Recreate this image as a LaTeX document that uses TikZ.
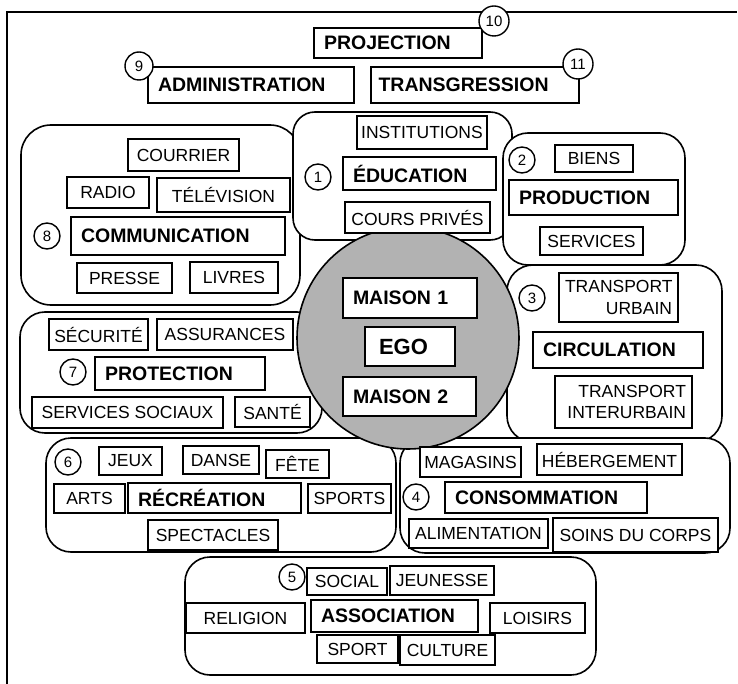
\documentclass[tikz,border=0pt]{standalone}
\usepackage{fontspec}
\setmainfont{Liberation Sans}

\begin{document}
\begin{tikzpicture}[x=1pt, y=-1pt,
  region/.style={draw=black, line width=1.6pt, fill=white, rounded corners=#1},
  region/.default=25pt,
  lbl/.style={rectangle, draw=black, line width=1.4pt, fill=white, inner sep=0pt,
              font=\fontsize{17.5}{21}\selectfont},
  head/.style={lbl, line width=1.6pt, inner xsep=10pt, align=left,
               font=\fontsize{19.5}{22}\selectfont\bfseries},
  twoline/.style={lbl, inner xsep=6pt, align=right,
                  font=\fontsize{17.5}{21.5}\selectfont},
  num/.style={circle, draw=black, line width=1.4pt, fill=white, inner sep=0pt,
              minimum size=26pt, font=\fontsize{15}{15}\selectfont},
  ego/.style={circle, draw=black, line width=1.6pt, fill=black!30,
              minimum size=222pt, inner sep=0pt}
]
\useasboundingbox (0,0) rectangle (738,684);

% frame
\draw[line width=1.6pt] (7,684) -- (7,12) -- (737,12);

% regions
\draw[region=30pt] (21,125) rectangle (300,305);   % communication
\draw[region=22pt] (293,112) rectangle (512,240);  % education
\draw[region=26pt] (507,265) rectangle (722,442);  % circulation
\draw[region] (503,133) rectangle (685,265);       % production
\draw[region] (20,312) rectangle (322,433);        % protection
\draw[region] (46,438) rectangle (396,552);        % recreation
\draw[region] (400,438) rectangle (730,553);       % consommation
\draw[region] (185,557) rectangle (596,675);       % association

\node[ego] (egodisk) at (408,338) {};

% top
\node[head, text width=148pt, minimum height=30pt] (projection) at (398,43) {PROJECTION};
\node[head, text width=186pt, minimum height=36pt] (administration) at (251,85) {ADMINISTRATION};
\node[head, text width=193pt, inner xsep=7.5pt, minimum height=36pt] (transgression) at (475,85) {TRANSGRESSION};

% communication
\node[lbl, minimum width=111pt, minimum height=32pt] (courrier) at (183.5,155) {COURRIER};
\node[lbl, minimum width=82pt, minimum height=31pt] (radio) at (108,192.5) {RADIO};
\node[lbl, minimum width=133pt, minimum height=34pt] (television) at (223.5,195) {TÉLÉVISION};
\node[head, text width=194pt, minimum height=38pt] (communication) at (178,236) {COMMUNICATION};
\node[lbl, minimum width=95pt, minimum height=30pt] (presse) at (124.5,278) {PRESSE};
\node[lbl, minimum width=88pt, minimum height=31pt] (livres) at (234,277.5) {LIVRES};

% education
\node[lbl, minimum width=130pt, minimum height=33pt] (institutions) at (422,132.5) {INSTITUTIONS};
\node[head, text width=133pt, minimum height=33pt] (education) at (419.5,173.5) {ÉDUCATION};
\node[lbl, minimum width=145pt, minimum height=31pt] (courspriv) at (417.5,217.5) {COURS PRIVÉS};

% production
\node[lbl, minimum width=78pt, minimum height=27pt] (biens) at (594,158.5) {BIENS};
\node[head, text width=149pt, minimum height=35pt] (production) at (593.5,197.5) {PRODUCTION};
\node[lbl, minimum width=103pt, minimum height=28pt] (services) at (591.5,241) {SERVICES};

% circulation
\node[twoline, text width=107pt, minimum height=49pt] (urbain) at (618.5,297.5) {TRANSPORT\\URBAIN};
\node[head, text width=150pt, minimum height=36pt] (circulation) at (618,350) {CIRCULATION};
\node[twoline, text width=125pt, minimum height=52pt] (interurbain) at (623.5,402) {TRANSPORT\\INTERURBAIN};

% protection
\node[lbl, minimum width=99pt, minimum height=31pt] (securite) at (98.5,334.5) {SÉCURITÉ};
\node[lbl, minimum width=136pt, minimum height=31pt] (assurances) at (225,334.5) {ASSURANCES};
\node[head, text width=150pt, minimum height=33pt] (protection) at (180,373.5) {PROTECTION};
\node[lbl, minimum width=191pt, minimum height=31pt] (sociaux) at (127.5,412.5) {SERVICES SOCIAUX};
\node[lbl, minimum width=75pt, minimum height=30pt] (sante) at (272.5,412) {SANTÉ};

% recreation
\node[lbl, minimum width=63pt, minimum height=28pt] (jeux) at (130.5,461) {JEUX};
\node[lbl, minimum width=76pt, minimum height=28pt] (danse) at (221,460) {DANSE};
\node[lbl, minimum width=63pt, minimum height=28pt] (fete) at (297.5,464) {FÊTE};
\node[lbl, minimum width=71pt, minimum height=29pt] (arts) at (89.5,498.5) {ARTS};
\node[head, text width=153pt, minimum height=30pt] (recreation) at (214.5,498) {RÉCRÉATION};
\node[lbl, minimum width=83pt, minimum height=29pt] (sports) at (349.5,498.5) {SPORTS};
\node[lbl, minimum width=130pt, minimum height=30pt] (spectacles) at (213,535) {SPECTACLES};

% consommation
\node[lbl, minimum width=101pt, minimum height=30pt] (magasins) at (470.5,462) {MAGASINS};
\node[lbl, minimum width=145pt, minimum height=31pt] (hebergement) at (609.5,459.5) {HÉBERGEMENT};
\node[head, text width=182pt, minimum height=31pt] (consommation) at (546,497.5) {CONSOMMATION};
\node[lbl, minimum width=139pt, minimum height=29pt] (alimentation) at (478.5,533.5) {ALIMENTATION};
\node[lbl, minimum width=165pt, minimum height=34pt] (soins) at (635.5,535) {SOINS DU CORPS};

% association
\node[lbl, minimum width=80pt, minimum height=27pt] (social) at (347,581.5) {SOCIAL};
\node[lbl, minimum width=104pt, minimum height=29pt] (jeunesse) at (442,580.5) {JEUNESSE};
\node[lbl, minimum width=119pt, minimum height=30pt] (religion) at (245.5,618) {RELIGION};
\node[head, text width=147pt, minimum height=32pt] (association) at (394.5,616) {ASSOCIATION};
\node[lbl, minimum width=95pt, minimum height=30pt] (loisirs) at (537.5,618) {LOISIRS};
\node[lbl, minimum width=81pt, minimum height=28pt] (sport) at (357.5,649) {SPORT};
\node[lbl, minimum width=95pt, minimum height=30pt] (culture) at (447.5,650) {CULTURE};

% ego
\node[head, text width=114pt, minimum height=40pt] (maisonA) at (410,298) {MAISON 1};
\node[head, text width=62pt, inner xsep=14pt, minimum height=39pt,
      font=\fontsize{22}{24}\selectfont\bfseries] (egobox) at (410,346.5) {EGO};
\node[head, text width=113pt, minimum height=39pt] (maisonB) at (409.5,396.5) {MAISON 2};

% numbers
\node[num] (n1) at (318,177) {1};
\node[num] (n2) at (522,160) {2};
\node[num] (n3) at (532,298) {3};
\node[num] (n4) at (416,497) {4};
\node[num] (n5) at (292,577) {5};
\node[num] (n6) at (68,462) {6};
\node[num] (n7) at (73,372) {7};
\node[num] (n8) at (47,236) {8};
\node[num, minimum size=28pt] (n9) at (139,66) {9};
\node[num, minimum size=30pt] (n10) at (494,21) {10};
\node[num, minimum size=30pt] (n11) at (578,64) {11};

\end{tikzpicture}
\end{document}
